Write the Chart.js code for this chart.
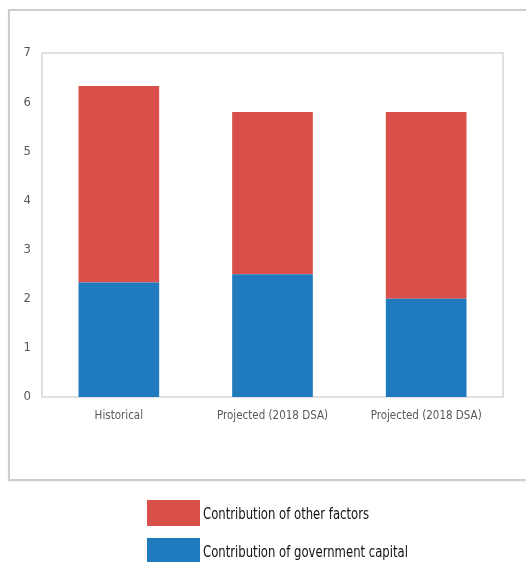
<!DOCTYPE html>
<html>
<head>
<meta charset="utf-8">
<script src="https://cdn.jsdelivr.net/npm/chart.js@4"></script>
<style>
  body { margin: 0; background: #fff; width: 526px; height: 562px; overflow: hidden; position: relative; }
  #frame { position: absolute; left: 8px; top: 9px; width: 540px; height: 468px;
           border: 2px solid #cdcdcd; border-right: none; box-shadow: 0 1px 2px #eee; }
  #chart { position: absolute; left: 0; top: 0; }
  #legend { position: absolute; left: 147px; top: 500px; font-family: 'Liberation Sans Narrow', 'DejaVu Sans Condensed', sans-serif;
            font-size: 16px; color: #111; }
  .item { display: flex; align-items: center; height: 26px; margin-bottom: 12px; }
  .swatch { width: 53px; height: 26px; margin-right: 3px; flex: none; }
  .item span { display: inline-block; white-space: nowrap; transform: scaleX(0.81); transform-origin: left center; }
</style>
</head>
<body>
<div id="frame"></div>
<canvas id="chart" width="526" height="562"></canvas>
<div id="legend"></div>
<script>
// categories and stacked values
const categories = ['Historical', 'Projected (2018 DSA)', 'Projected (2018 DSA)'];
const govCapital = [2.33, 2.5, 2.0];
const otherFactors = [4.0, 3.3, 3.8];
const yTicks = [0, 1, 2, 3, 4, 5, 6, 7];

const BLUE = '#1f7bbd';
const RED = '#d94f4a';
const FONT_FAMILY = "'Liberation Sans Narrow', 'DejaVu Sans Condensed', sans-serif";

// --- border round the plot area ---
const plotBorder = {
    id: 'plotBorder',
    beforeDatasetsDraw(chart) {
        const { ctx, chartArea: a } = chart;
        ctx.save();
        ctx.strokeStyle = '#d6d6d6';
        ctx.lineWidth = 1.5;
        ctx.strokeRect(a.left, a.top, a.right - a.left, a.bottom - a.top);
        ctx.restore();
    }
};

const chart = new Chart(document.getElementById('chart').getContext('2d'), {
    type: 'bar',
    data: {
        labels: categories,
        datasets: [
            { label: 'Contribution of government capital', data: govCapital, backgroundColor: BLUE },
            { label: 'Contribution of other factors', data: otherFactors, backgroundColor: RED }
        ]
    },
    options: {
        responsive: false,
        animation: false,
        layout: { padding: { left: 0, top: 53, right: 23, bottom: 125 } },
        datasets: { bar: { barPercentage: 0.75, categoryPercentage: 0.7 } },
        scales: {
            x: {
                stacked: true,
                grid: { display: false },
                border: { display: false },
                ticks: { color: '#595959', font: { family: FONT_FAMILY, size: 11.5 }, padding: 4, maxRotation: 0 },
                afterFit: (axis) => { axis.height = 40; }
            },
            y: {
                stacked: true,
                min: 0,
                max: 7,
                grid: { display: false },
                border: { display: false },
                afterBuildTicks: (axis) => { axis.ticks = yTicks.map(v => ({ value: v })); },
                ticks: { color: '#595959', font: { family: FONT_FAMILY, size: 13 }, padding: 3 },
                afterFit: (axis) => { axis.width = 42; }
            }
        },
        plugins: {
            legend: { display: false },
            tooltip: { enabled: false }
        }
    },
    plugins: [plotBorder]
});

// --- legend, red first as in the picture ---
const legend = document.getElementById('legend');
chart.data.datasets.slice().reverse().forEach(ds => {
    const item = document.createElement('div');
    item.className = 'item';
    item.innerHTML = '<div class="swatch" style="background:' + ds.backgroundColor + '"></div><span>' + ds.label + '</span>';
    legend.appendChild(item);
});
</script>
</body>
</html>
